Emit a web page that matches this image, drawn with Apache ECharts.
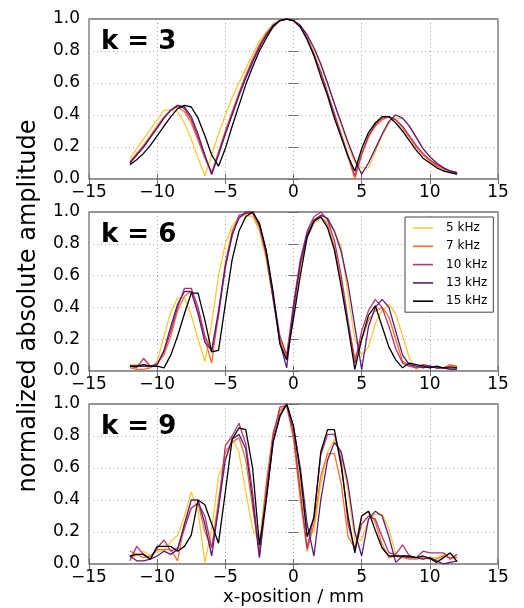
<!DOCTYPE html>
<html>
<head>
<meta charset="utf-8">
<script src="https://cdn.jsdelivr.net/npm/echarts@6/dist/echarts.min.js"></script>
<style>
  html, body { margin: 0; padding: 0; background: #fff; }
  #chart { width: 524px; height: 608px; }
</style>
</head>
<body>
<div id="chart"></div>
<script>
// x positions (mm), shared by every curve
const xs = [-12,-11.5,-11,-10.5,-10,-9.5,-9,-8.5,-8,-7.5,-7,-6.5,-6,-5.5,-5,-4.5,-4,-3.5,-3,-2.5,-2,-1.5,-1,-0.5,
            0,0.5,1,1.5,2,2.5,3,3.5,4,4.5,5,5.5,6,6.5,7,7.5,8,8.5,9,9.5,10,10.5,11,11.5,12];

const freqNames = ['5 kHz', '7 kHz', '10 kHz', '13 kHz', '15 kHz'];
const freqColors = ['#f8c83c', '#f2722c', '#b7336b', '#5b1b7c', '#000004'];
const panelLabels = ['k = 3', 'k = 6', 'k = 9'];
const xTicks = [-15, -10, -5, 0, 5, 10, 15];
const yTicks = [0, 0.2, 0.4, 0.6, 0.8, 1.0];

// k = 3
const k3_5  = [0.13,0.19,0.25,0.31,0.37,0.43,0.43,0.42,0.35,0.25,0.13,0.02, 0.15,0.28,0.40,0.51,0.60,0.69,0.78,0.86,0.92,0.97,0.99,1.00, 0.99,0.96,0.90,0.81,0.71,0.59,0.47,0.34,0.21,0.10,0.07,0.07, 0.17,0.27,0.35,0.38,0.38,0.33,0.26,0.19,0.14,0.10,0.07,0.05,0.03];
const k3_7  = [0.11,0.16,0.21,0.27,0.33,0.39,0.43,0.45,0.42,0.35,0.24,0.13, 0.04,0.17,0.30,0.42,0.54,0.65,0.75,0.84,0.91,0.96,0.99,1.00, 0.99,0.95,0.88,0.78,0.66,0.53,0.40,0.27,0.14,0.00,0.15,0.26, 0.33,0.37,0.39,0.37,0.32,0.26,0.20,0.15,0.11,0.08,0.06,0.04,0.03];
const k3_10 = [0.10,0.15,0.20,0.26,0.32,0.38,0.43,0.46,0.44,0.37,0.26,0.14, 0.03,0.16,0.29,0.41,0.53,0.64,0.74,0.83,0.90,0.96,0.99,1.00, 0.99,0.95,0.88,0.78,0.67,0.54,0.41,0.28,0.15,0.02,0.16,0.27, 0.34,0.38,0.39,0.37,0.33,0.27,0.21,0.16,0.12,0.09,0.07,0.05,0.04];
const k3_13 = [0.10,0.15,0.20,0.26,0.32,0.38,0.43,0.46,0.45,0.39,0.28,0.15, 0.03,0.15,0.28,0.40,0.52,0.63,0.73,0.82,0.90,0.96,0.99,1.00, 0.99,0.96,0.90,0.82,0.72,0.60,0.47,0.35,0.23,0.12,0.03,0.10, 0.19,0.28,0.36,0.40,0.38,0.33,0.26,0.19,0.14,0.10,0.07,0.05,0.04];
const k3_15 = [0.09,0.12,0.16,0.21,0.27,0.33,0.39,0.44,0.46,0.45,0.38,0.27, 0.15,0.08,0.19,0.33,0.46,0.59,0.70,0.80,0.88,0.95,0.99,1.00, 0.99,0.95,0.87,0.77,0.64,0.52,0.38,0.26,0.14,0.05,0.19,0.29, 0.35,0.39,0.39,0.35,0.30,0.24,0.18,0.13,0.10,0.07,0.05,0.04,0.03];

// k = 6
const k6_5  = [0.04,0.04,0.03,0.02,0.06,0.22,0.37,0.46,0.46,0.35,0.20,0.06, 0.30,0.60,0.80,0.91,0.97,0.98,0.97,0.88,0.70,0.45,0.22,0.10, 0.38,0.65,0.84,0.93,0.96,0.94,0.88,0.78,0.48,0.20,0.10,0.15, 0.30,0.38,0.42,0.36,0.22,0.08,0.01,0.03,0.03,0.02,0.02,0.03,0.03];
const k6_7  = [0.02,0.01,0.01,0.02,0.05,0.10,0.22,0.38,0.47,0.50,0.38,0.20, 0.05,0.36,0.68,0.88,0.97,0.99,0.99,0.90,0.72,0.46,0.20,0.08, 0.37,0.66,0.86,0.95,0.97,0.92,0.78,0.56,0.30,0.08,0.20,0.32, 0.38,0.40,0.34,0.20,0.06,0.04,0.02,0.04,0.03,0.02,0.02,0.04,0.03];
const k6_10 = [0.03,0.02,0.08,0.03,0.04,0.12,0.25,0.40,0.52,0.52,0.40,0.22, 0.12,0.35,0.65,0.85,0.98,0.99,1.00,0.92,0.75,0.48,0.22,0.10, 0.42,0.70,0.88,0.97,1.00,0.95,0.82,0.60,0.32,0.05,0.25,0.38, 0.45,0.40,0.28,0.14,0.05,0.03,0.02,0.04,0.03,0.02,0.02,0.03,0.02];
const k6_13 = [0.03,0.03,0.03,0.03,0.04,0.13,0.28,0.42,0.50,0.50,0.36,0.18, 0.13,0.38,0.66,0.86,0.96,1.00,1.00,0.92,0.74,0.46,0.18,0.02, 0.40,0.68,0.86,0.95,0.98,0.96,0.88,0.75,0.55,0.28,0.01,0.28, 0.40,0.45,0.40,0.25,0.10,0.04,0.03,0.02,0.03,0.02,0.02,0.01,0.01];
const k6_15 = [0.03,0.03,0.04,0.03,0.03,0.02,0.10,0.22,0.36,0.49,0.49,0.32, 0.12,0.13,0.42,0.70,0.88,0.97,1.00,0.93,0.76,0.50,0.17,0.07, 0.33,0.60,0.84,0.94,0.97,0.90,0.76,0.53,0.28,0.01,0.20,0.35, 0.41,0.28,0.15,0.07,0.02,0.05,0.04,0.03,0.02,0.03,0.02,0.02,0.02];

// k = 9
const k9_5  = [0.04,0.05,0.08,0.05,0.08,0.08,0.14,0.18,0.30,0.45,0.33,0.01, 0.22,0.55,0.65,0.78,0.70,0.45,0.22,0.14,0.50,0.80,0.95,1.00, 0.82,0.50,0.18,0.20,0.50,0.70,0.78,0.70,0.45,0.15,0.15,0.28, 0.31,0.31,0.22,0.06,0.04,0.04,0.04,0.03,0.04,0.04,0.06,0.06,0.04];
const k9_7  = [0.08,0.06,0.04,0.05,0.09,0.09,0.09,0.02,0.25,0.35,0.38,0.20, 0.10,0.40,0.70,0.76,0.79,0.65,0.35,0.08,0.50,0.82,0.96,0.99, 0.78,0.40,0.08,0.25,0.55,0.69,0.69,0.50,0.17,0.10,0.30,0.33, 0.26,0.12,0.04,0.05,0.04,0.03,0.03,0.04,0.03,0.03,0.05,0.04,0.04];
const k9_10 = [0.02,0.11,0.06,0.03,0.10,0.15,0.08,0.10,0.22,0.35,0.38,0.30, 0.10,0.35,0.74,0.80,0.88,0.75,0.45,0.05,0.45,0.80,0.98,0.99, 0.82,0.45,0.10,0.30,0.68,0.81,0.81,0.65,0.25,0.09,0.25,0.30, 0.28,0.17,0.07,0.06,0.12,0.05,0.04,0.08,0.07,0.07,0.07,0.03,0.06];
const k9_13 = [0.05,0.02,0.02,0.03,0.05,0.08,0.06,0.09,0.25,0.40,0.40,0.25, 0.05,0.35,0.65,0.78,0.81,0.72,0.40,0.04,0.40,0.76,0.93,1.00, 0.86,0.60,0.25,0.05,0.40,0.65,0.76,0.70,0.50,0.20,0.05,0.28, 0.33,0.30,0.17,0.01,0.05,0.04,0.04,0.03,0.04,0.02,0.00,0.01,0.02];
const k9_15 = [0.05,0.06,0.06,0.03,0.11,0.11,0.11,0.08,0.11,0.18,0.40,0.37, 0.25,0.13,0.45,0.78,0.85,0.84,0.60,0.12,0.40,0.76,0.92,1.00, 0.86,0.57,0.17,0.29,0.70,0.84,0.84,0.61,0.30,0.07,0.30,0.33, 0.21,0.10,0.05,0.05,0.05,0.05,0.04,0.05,0.035,0.01,0.04,0.07,0.015];

const panels = [
  [k3_5, k3_7, k3_10, k3_13, k3_15],
  [k6_5, k6_7, k6_10, k6_13, k6_15],
  [k9_5, k9_7, k9_10, k9_13, k9_15]
];

const FONT = 'DejaVu Sans';
const frameColor = '#6e6e6e';
const gridTops = [19, 212, 404];
const gridHeights = [160, 159, 160];

function minusFmt(v) {
  return v < 0 ? '\u2212' + (-v) : String(v);
}

let grid = [], xAxis = [], yAxis = [], series = [], graphic = [];

panels.forEach(function (curves, p) {
  grid.push({
    left: 89, width: 409, top: gridTops[p], height: gridHeights[p],
    show: true, borderColor: frameColor, borderWidth: 1.3, backgroundColor: '#fff'
  });
  // bottom axis with labels
  xAxis.push({
    type: 'value', gridIndex: p, min: xTicks[0], max: xTicks[xTicks.length - 1], interval: 5,
    axisLine: { show: false },
    axisTick: { inside: true, length: 5, lineStyle: { color: frameColor } },
    axisLabel: { color: '#000', fontFamily: FONT, fontSize: 17, margin: 5, formatter: minusFmt },
    splitLine: { show: true, lineStyle: { color: '#aaaaaa', type: [1, 3], width: 1 } }
  });
  // top axis, ticks only
  xAxis.push({
    type: 'value', gridIndex: p, position: 'top', min: xTicks[0], max: xTicks[xTicks.length - 1], interval: 5,
    axisLine: { show: false },
    axisTick: { inside: true, length: 5, lineStyle: { color: frameColor } },
    axisLabel: { show: false }, splitLine: { show: false }
  });
  yAxis.push({
    type: 'value', gridIndex: p, min: yTicks[0], max: yTicks[yTicks.length - 1], interval: 0.2,
    axisLine: { show: false },
    axisTick: { inside: true, length: 5, lineStyle: { color: frameColor } },
    axisLabel: { color: '#000', fontFamily: FONT, fontSize: 17, margin: 9, formatter: function (v) { return v.toFixed(1); } },
    splitLine: { show: true, lineStyle: { color: '#aaaaaa', type: [1, 3], width: 1 } }
  });
  yAxis.push({
    type: 'value', gridIndex: p, position: 'right', min: 0, max: 1, interval: 0.2,
    axisLine: { show: false },
    axisTick: { inside: true, length: 5, lineStyle: { color: frameColor } },
    axisLabel: { show: false }, splitLine: { show: false }
  });

  curves.forEach(function (vals, i) {
    series.push({
      name: freqNames[i],
      type: 'line',
      xAxisIndex: p * 2,
      yAxisIndex: p * 2,
      data: xs.map(function (x, j) { return [x, vals[j]]; }),
      symbol: 'none',
      lineStyle: { color: freqColors[i], width: 1.3 },
      itemStyle: { color: freqColors[i] },
      z: 2 + i
    });
  });

  graphic.push({
    type: 'text', x: 101, y: gridTops[p] + 23, z: 100,
    style: { text: panelLabels[p], font: 'bold 26px "' + FONT + '"', fill: '#000', verticalAlign: 'middle' }
  });
});

graphic.push({
  type: 'text', x: 293.5, y: 597, z: 100,
  style: { text: 'x-position / mm', font: '18px "' + FONT + '"', fill: '#000', align: 'center', verticalAlign: 'middle' }
});
graphic.push({
  type: 'text', x: 29, y: 306, rotation: Math.PI / 2, z: 100,
  style: { text: 'normalized absolute amplitude', font: '24px "' + FONT + '"', fill: '#000', align: 'center', verticalAlign: 'middle' }
});

const chart = echarts.init(document.getElementById('chart'));
chart.setOption({
  animation: false,
  backgroundColor: '#fff',
  grid: grid,
  xAxis: xAxis,
  yAxis: yAxis,
  series: series,
  graphic: graphic,
  legend: {
    data: freqNames,
    orient: 'vertical',
    left: 405,
    top: 217,
    padding: [4, 6, 4, 8],
    icon: 'rect',
    itemWidth: 20,
    itemHeight: 1.6,
    itemGap: 4.3,
    backgroundColor: '#fff',
    borderColor: '#444',
    borderWidth: 1,
    textStyle: { color: '#000', fontFamily: FONT, fontSize: 12, lineHeight: 14, padding: [0, 0, 0, 8] }
  }
});
</script>
</body>
</html>
